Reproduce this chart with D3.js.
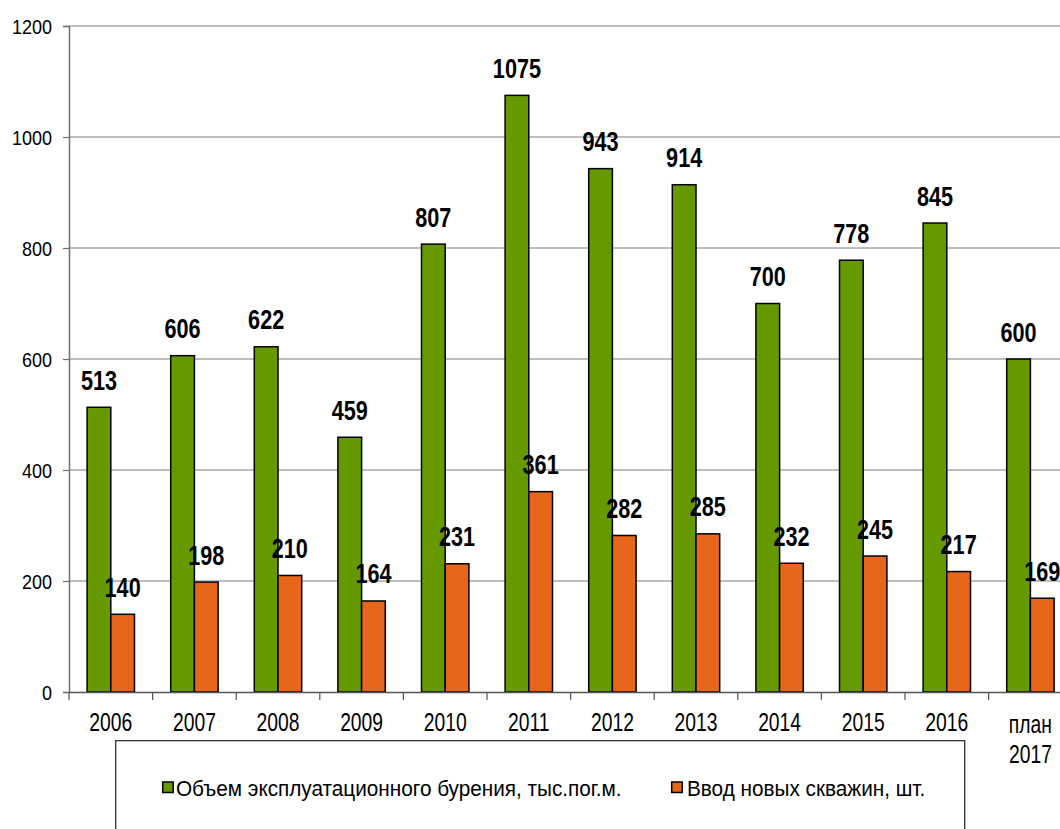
<!DOCTYPE html>
<html>
<head>
<meta charset="utf-8">
<script src="https://cdn.jsdelivr.net/npm/d3@7"></script>
<style>
html,body{margin:0;padding:0;background:#fff;overflow:hidden;}
svg{display:block;}
</style>
</head>
<body>
<svg id="chart" width="1060" height="829"></svg>
<script>
const categories = ["2006","2007","2008","2009","2010","2011","2012","2013","2014","2015","2016","план\n2017"];
const drilling = [513,606,622,459,807,1075,943,914,700,778,845,600];
const wells = [140,198,210,164,231,361,282,285,232,245,217,169];
const yTicks = [0,200,400,600,800,1000,1200];
const seriesNames = ["Объем эксплуатационного бурения, тыс.пог.м.","Ввод новых скважин, шт."];
const seriesColors = ["#669900","#E8661A"];

(function(){
const svg = d3.select("#chart");
const FONT = "'Liberation Sans',Arial,sans-serif";
const plotLeft = 69, plotBottom = 692, plotTop = 26, step = 83.6;

const x = d3.scaleBand().domain(categories).range([plotLeft, plotLeft + step*categories.length]).padding(0);
const sub = d3.scaleBand().domain([0,1]).range([0, x.bandwidth()]).paddingInner(0).paddingOuter(0.764);
const y = d3.scaleLinear().domain([0,1200]).range([plotBottom, plotTop]);

// gridlines
svg.append("g").selectAll("line").data(yTicks.filter(d=>d>0)).join("line")
  .attr("x1", plotLeft).attr("x2", 1060)
  .attr("y1", d=>y(d)).attr("y2", d=>y(d))
  .attr("stroke", "#7f7f7f").attr("stroke-width", 1.2);

// y axis
const yAxis = svg.append("g").attr("transform", `translate(${plotLeft},0)`)
  .call(d3.axisLeft(y).tickValues(yTicks).tickSize(6).tickPadding(11).tickFormat(d3.format("d")));
yAxis.select(".domain").attr("stroke", "#6f6f6f").attr("stroke-width", 1.5);
yAxis.selectAll(".tick line").attr("stroke", "#6f6f6f").attr("stroke-width", 1.2);
yAxis.selectAll(".tick text").attr("font-family", FONT).attr("font-size", 18).attr("fill", "#000")
  .attr("dy", "0.36em").attr("transform", "scale(1,1.16)");

// bars
const groups = svg.append("g").selectAll("g").data(categories).join("g")
  .attr("transform", d => `translate(${x(d)},0)`);
const vals = [drilling, wells];
groups.each(function(c, i){
  const g = d3.select(this);
  [0,1].forEach(s => {
    const v = vals[s][i];
    g.append("rect")
      .attr("x", sub(s)).attr("width", sub.bandwidth())
      .attr("y", y(v)).attr("height", y(0) - y(v))
      .attr("fill", seriesColors[s]).attr("stroke", "#000").attr("stroke-width", 1.5);
  });
});

// x axis
const xAxis = svg.append("g").attr("transform", `translate(0,${plotBottom})`)
  .call(d3.axisBottom(x).tickSize(0).tickFormat(""));
xAxis.select(".domain").attr("stroke", "#555").attr("stroke-width", 1.5);
const bounds = d3.range(categories.length + 1).map(i => plotLeft + i*step);
svg.append("g").selectAll("line").data(bounds).join("line")
  .attr("x1", d=>d).attr("x2", d=>d).attr("y1", plotBottom).attr("y2", plotBottom+8)
  .attr("stroke", "#555").attr("stroke-width", 1.2);

// x labels
categories.forEach(c => {
  const lines = c.split("\n");
  const cx = x(c) + x.bandwidth()/2;
  lines.forEach((ln, k) => {
    const by = lines.length > 1 ? 733 + k*30 : 731;
    svg.append("text")
      .attr("transform", `translate(${cx},${by}) scale(1,1.3)`)
      .attr("text-anchor", "middle").attr("font-family", FONT).attr("font-size", 19.3)
      .attr("fill", "#000").text(ln);
  });
});

// data labels
groups.each(function(c, i){
  const g = d3.select(this);
  [0,1].forEach(s => {
    const v = vals[s][i];
    g.append("text")
      .attr("transform", `translate(${sub(s)+sub.bandwidth()/2},${y(v)-17.5}) scale(0.76,1)`)
      .attr("text-anchor", "middle").attr("font-family", FONT).attr("font-weight", "bold")
      .attr("font-size", 28.5).attr("fill", "#000").text(v);
  });
});

// legend
svg.append("rect").attr("x", 115.7).attr("y", 740.7).attr("width", 849).attr("height", 120)
  .attr("fill", "#fff").attr("stroke", "#222").attr("stroke-width", 1.2);
const legendItems = [{mx:162.7, tx:176}, {mx:671.7, tx:687}];
legendItems.forEach((it, s) => {
  svg.append("rect").attr("x", it.mx).attr("y", 782).attr("width", 10.5).attr("height", 10.5)
    .attr("fill", seriesColors[s]).attr("stroke", "#000").attr("stroke-width", 1.5);
  svg.append("text").attr("transform", `translate(${it.tx},796) scale(0.965,1)`)
    .attr("font-family", FONT).attr("font-size", 21.5).attr("fill", "#000").text(seriesNames[s]);
});
})();
</script>
</body>
</html>
